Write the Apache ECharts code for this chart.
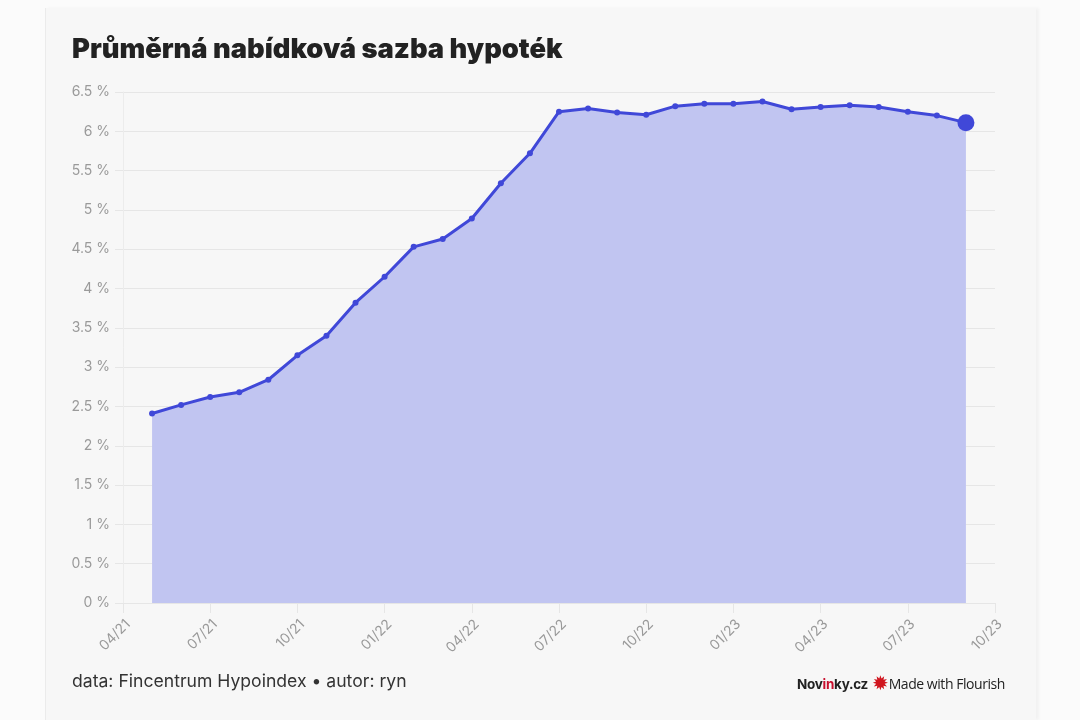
<!DOCTYPE html>
<html>
<head>
<meta charset="utf-8">
<script src="https://cdn.jsdelivr.net/npm/echarts@6/dist/echarts.min.js"></script>
<style>
  html, body { margin:0; padding:0; width:1080px; height:720px; background:#fbfbfb; overflow:hidden; }
  #card { position:absolute; left:45px; top:8px; width:990px; height:712px; background:#f7f7f7;
          border-left:1px solid #ebebeb; box-shadow: 3px 0 3px rgba(0,0,0,0.04); }
  #chart { position:absolute; left:0; top:0; width:1080px; height:720px; }
  .foot { position:absolute; font-family: Inter, "Noto Sans", sans-serif; }
</style>
</head>
<body>
<div id="card"></div>
<div id="chart"></div>
<div class="foot" style="left:72px; top:670px; font-size:17.6px; color:#333;">data: Fincentrum Hypoindex • autor: ryn</div>
<div class="foot" style="left:797px; top:670px; font-size:14px; color:#222; white-space:nowrap;">
  <span style="font-weight:700; font-size:13.5px; letter-spacing:-0.3px;">Nov<span style="color:#c8102e;">in</span>ky.cz</span>
  <span style="color:#d0161f; font-size:20px; font-family:'DejaVu Sans'; position:relative; top:1px;">✹</span><span style="font-family:'Open Sans'; letter-spacing:-0.45px;">Made with Flourish</span>
</div>
<script>
// months of the observations (first day of month)
const months = ['2021-05','2021-06','2021-07','2021-08','2021-09','2021-10','2021-11','2021-12',
  '2022-01','2022-02','2022-03','2022-04','2022-05','2022-06','2022-07','2022-08','2022-09','2022-10',
  '2022-11','2022-12','2023-01','2023-02','2023-03','2023-04','2023-05','2023-06','2023-07','2023-08','2023-09'];
// average offered mortgage rate, %
const rates = [2.41,2.52,2.62,2.68,2.84,3.15,3.40,3.82,4.15,4.53,4.63,4.89,5.34,5.72,6.25,
  6.29,6.24,6.21,6.32,6.35,6.35,6.38,6.28,6.31,6.33,6.31,6.25,6.20,6.11];
// x-axis tick labels (quarterly, starting 04/21)
const xTickLabels = ['04/21','07/21','10/21','01/22','04/22','07/22','10/22','01/23','04/23','07/23','10/23'];
const yTicks = [0,0.5,1,1.5,2,2.5,3,3.5,4,4.5,5,5.5,6,6.5];

// month offset from 2021-04
function monthIndex(s) {
  const [y, m] = s.split('-').map(Number);
  return (y - 2021) * 12 + (m - 4);
}
const points = months.map((m, i) => [monthIndex(m), rates[i]]);
const last = points[points.length - 1];

const chart = echarts.init(document.getElementById('chart'));
const gridColor = '#e6e6e6';
chart.setOption({
  animation: false,
  title: {
    text: 'Průměrná nabídková sazba hypoték',
    left: 67, top: 31,
    textStyle: { fontFamily: 'Inter', fontWeight: 900, fontSize: 27.3, color: '#222' }
  },
  grid: { left: 123, right: 85, top: 92, bottom: 117 },
  xAxis: {
    type: 'value', min: 0, max: (xTickLabels.length - 1) * 3, interval: 3,
    axisLine: { show: true, lineStyle: { color: gridColor } },
    axisTick: { show: true, length: 10, lineStyle: { color: gridColor } },
    splitLine: { show: false },
    axisLabel: {
      rotate: 45, margin: 14, color: '#9a9a9a', fontFamily: 'Inter', fontSize: 14,
      align: 'right', verticalAlign: 'top',
      formatter: v => xTickLabels[Math.round(v / 3)] || ''
    }
  },
  yAxis: {
    type: 'value', min: yTicks[0], max: yTicks[yTicks.length - 1], interval: 0.5,
    axisLine: { show: true, lineStyle: { color: '#ececec' } },
    axisTick: { show: true, length: 8, lineStyle: { color: gridColor } },
    splitLine: { show: true, lineStyle: { color: gridColor } },
    axisLabel: {
      margin: 13, color: '#9a9a9a', fontFamily: 'Inter', fontSize: 14,
      formatter: v => v + ' %'
    }
  },
  series: [{
    type: 'line',
    data: points,
    symbol: 'circle',
    symbolSize: 6,
    showAllSymbol: true,
    lineStyle: { color: '#4048d8', width: 3 },
    itemStyle: { color: '#4048d8' },
    areaStyle: { color: '#c1c5f1', opacity: 1 },
    z: 3
  }, {
    type: 'scatter',
    data: [last],
    symbolSize: 17,
    itemStyle: { color: '#4048d8', opacity: 1 },
    z: 4
  }]
});
</script>
</body>
</html>
